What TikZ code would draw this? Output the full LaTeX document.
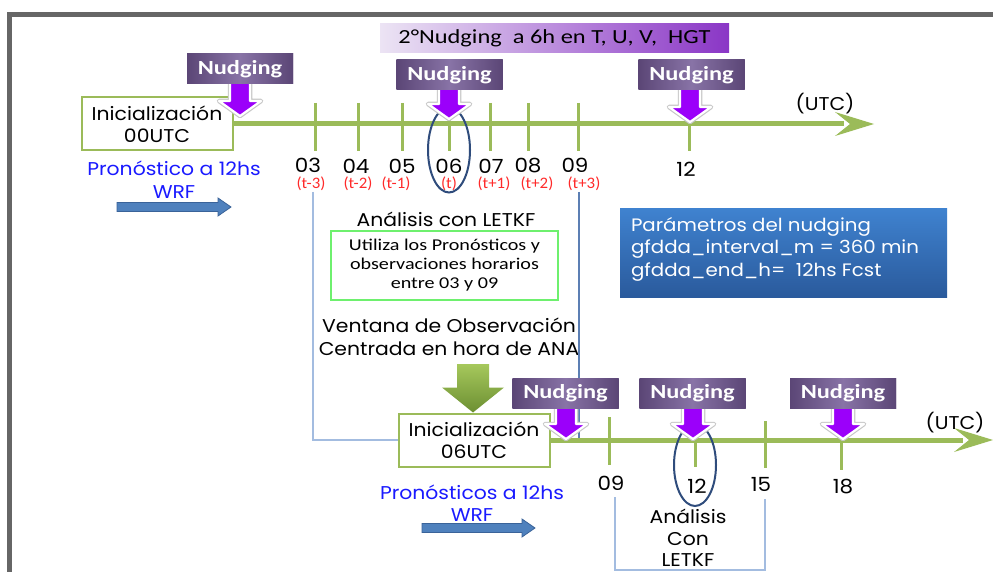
\documentclass[tikz,border=0pt]{standalone}
\usepackage{fontspec}
\setmainfont[FakeStretch=1.1]{Poppins}
\newfontfamily\calfont[FakeStretch=1.22]{Carlito}
\newfontfamily\redfont[FakeStretch=1.05]{Carlito}
\usetikzlibrary{shapes.geometric,calc}
\definecolor{axisgreen}{HTML}{9BBB59}
\definecolor{framegray}{HTML}{666666}
\definecolor{nudgedark}{HTML}{5B4676}
\definecolor{nudgelight}{HTML}{8873A6}
\definecolor{nudgeviolet}{RGB}{155,0,250}
\definecolor{bannerleft}{HTML}{ECE4F4}
\definecolor{bannerright}{HTML}{8A36C6}
\definecolor{ellblue}{HTML}{2F4C7C}
\definecolor{labred}{HTML}{FF2A2A}
\definecolor{textblue}{HTML}{1A1AFF}
\definecolor{brlight}{HTML}{A3BCE0}
\definecolor{brdark}{HTML}{5C7FB4}
\definecolor{boxgreen}{RGB}{110,240,110}
\definecolor{ventlight}{HTML}{A6C85C}
\definecolor{ventdark}{HTML}{6C8F32}
\definecolor{paramtop}{HTML}{3F82CF}
\definecolor{parambot}{HTML}{2A5A9C}
\definecolor{wrffill}{HTML}{4F81BD}
\definecolor{wrfedge}{HTML}{3A6399}

% violet arrow from a Nudging box down to a point of the time axis
\newcommand\nudgedown[2]{%
  \path[nudgeshadow] let \p1=(#1.south), \p2=(#2) in
    (\x2,\y2) -- (\x2-21pt,\y2+15pt) -- (\x2-10pt,\y2+15pt) -- (\x2-10pt,\y1+2pt)
    -- (\x2+10pt,\y1+2pt) -- (\x2+10pt,\y2+15pt) -- (\x2+21pt,\y2+15pt) -- cycle;
  \path[nudgefill] let \p1=(#1.south), \p2=(#2) in
    (\x2,\y2) -- (\x2-21pt,\y2+15pt) -- (\x2-10pt,\y2+15pt) -- (\x2-10pt,\y1+2pt)
    -- (\x2+10pt,\y1+2pt) -- (\x2+10pt,\y2+15pt) -- (\x2+21pt,\y2+15pt) -- cycle;}
% green arrow head at the end of a time axis
\newcommand\axishead[1]{%
  \fill[axisgreen] let \p1=(#1) in (\x1,\y1) -- (\x1-39pt,\y1+12pt)
    -- (\x1-24pt,\y1) -- (\x1-39pt,\y1-12pt) -- cycle;}
% broad blue arrow under the WRF labels
\newcommand\wrfarrow[2]{%
  \path[wrfstyle] let \p1=(#1), \p2=(#2) in
    (\x1,\y1+4.5pt) -- (\x2-13pt,\y1+4.5pt) -- (\x2-13pt,\y1+9pt) -- (\x2,\y1)
    -- (\x2-13pt,\y1-9pt) -- (\x2-13pt,\y1-4.5pt) -- (\x1,\y1-4.5pt) -- cycle;}

\begin{document}
\begin{tikzpicture}[x=1pt,y=-1pt,
  lbl/.style={inner sep=0pt, align=center, font=\fontsize{18.5}{22}\selectfont},
  bluelbl/.style={lbl, text=textblue},
  redlbl/.style={inner sep=0pt, text=labred, font=\redfont\fontsize{16}{17}\selectfont},
  numlbl/.style={inner sep=0pt, font=\fontsize{19.5}{22}\selectfont},
  initbox/.style={draw=axisgreen, line width=2pt, fill=white, minimum width=151pt,
    minimum height=53pt, inner sep=0pt, align=center, font=\fontsize{18.5}{22}\selectfont},
  nudgebox/.style={left color=nudgedark, right color=nudgedark, middle color=nudgelight,
    minimum width=106pt, minimum height=30pt, inner sep=0pt, text=white,
    font=\calfont\bfseries\fontsize{20}{22}\selectfont},
  nudgeshadow/.style={draw=black!22, line width=4.5pt, line join=round},
  nudgefill/.style={fill=nudgeviolet, draw=white, line width=2.2pt, line join=round},
  axisline/.style={draw=axisgreen, line width=5pt},
  tickline/.style={draw=axisgreen, line width=3pt},
  ellring/.style={ellipse, draw=ellblue, line width=2pt, inner sep=0pt},
  wrfstyle/.style={fill=wrffill, draw=wrfedge, line width=0.8pt}]

\useasboundingbox (0,0) rectangle (993,572);
\fill[white] (0,0) rectangle (993,572);

% frame
\draw[framegray, line width=5pt] (9.5,572) -- (9.5,14.5) -- (993,14.5);

% ---------- first forecast (00 UTC) ----------
\node[initbox] (init1) at (157,124) {Inicialización\\00UTC};
\coordinate (ax1tip) at (874,124);
\draw[axisline] (init1.east) -- ($(ax1tip)+(-30,0)$);
\axishead{ax1tip}
\foreach \x in {315,358,402,449,490,528,578,689}
  \draw[tickline] (\x,103) -- (\x,151);
\node[lbl] (utc1) at (825,104) {(UTC)};

\node[numlbl] (h03) at (308,165) {03};
\node[numlbl] (h04) at (356,166) {04};
\node[numlbl] (h05) at (402,166) {05};
\node[numlbl] (h06) at (449,166) {06};
\node[numlbl] (h07) at (491,166) {07};
\node[numlbl] (h08) at (528,166) {08};
\node[numlbl] (h09) at (575,165) {09};
\node[numlbl] (h12) at (686,169) {12};
\node[redlbl] (r03) at (311,184) {(t-3)};
\node[redlbl] (r04) at (358,184) {(t-2)};
\node[redlbl] (r05) at (396,184) {(t-1)};
\node[redlbl] (r06) at (449,184) {(t)};
\node[redlbl] (r07) at (494,184) {(t+1)};
\node[redlbl] (r08) at (537,184) {(t+2)};
\node[redlbl] (r09) at (584,184) {(t+3)};

\node[ellring, minimum width=42pt, minimum height=85pt] (ell1) at (449,150) {};

\node[left color=bannerleft, right color=bannerright, minimum width=349pt,
  minimum height=29pt, inner sep=0pt, font=\calfont\fontsize{20}{22}\selectfont]
  (banner) at (554.5,38.5) {2°Nudging~~a 6h en T, U, V,~~HGT};

\node[nudgebox] (n1) at (240,69) {Nudging};
\node[nudgebox] (n2) at (449.5,75) {Nudging};
\node[nudgebox] (n3) at (691.5,75) {Nudging};
\coordinate (p1) at (240,116);
\coordinate (p2) at (449,119);
\coordinate (p3) at (690,122);
\nudgedown{n1}{p1}
\nudgedown{n2}{p2}
\nudgedown{n3}{p3}
\node[nudgebox] at (n1) {Nudging};
\node[nudgebox] at (n2) {Nudging};
\node[nudgebox] at (n3) {Nudging};

\node[bluelbl, font=\fontsize{18.5}{23}\selectfont] (fc1) at (174,180) {Pronóstico a 12hs\\WRF};
\coordinate (w1s) at (117,207);
\coordinate (w1e) at (231,207);
\wrfarrow{w1s}{w1e}

% ---------- analysis window ----------
\node[lbl] (ana) at (446,219) {Análisis con LETKF};
\node[draw=boxgreen, line width=1.6pt, minimum width=227pt, minimum height=69pt,
  inner sep=0pt, align=center, font=\calfont\fontsize{16.5}{19}\selectfont]
  (uses) at (444.5,265.5) {Utiliza los Pronósticos y\\observaciones horarios\\entre 03 y 09};
\node[lbl, font=\fontsize{18.5}{23}\selectfont] (vent) at (449,337)
  {Ventana de Observación\\Centrada en hora de ANA};

% ---------- second forecast (06 UTC) ----------
\node[initbox] (init2) at (474,440) {Inicialización\\06UTC};
\coordinate (br1top) at (313,192);
\coordinate (br2top) at (579,192);
\coordinate (br2bot) at (579,440);
\draw[brlight, line width=1.3pt] (br1top) |- (init2.west);
\draw[brdark, line width=1.2pt] (br2top) -- (br2bot);
\node[initbox] at (init2) {Inicialización\\06UTC};

\coordinate (venttop) at (473,364);
\path[top color=ventlight, bottom color=ventdark] let \p1=(venttop), \p2=(init2.north) in
  (\x1-16pt,\y1) -- (\x1+16pt,\y1) -- (\x1+16pt,\y2+25pt) -- (\x1+31pt,\y2+25pt)
  -- (\x1,\y2) -- (\x1-31pt,\y2+25pt) -- (\x1-16pt,\y2+25pt) -- cycle;

\coordinate (ax2tip) at (993,440);
\draw[axisline] (init2.east) -- ($(ax2tip)+(-30,0)$);
\axishead{ax2tip}
\draw[tickline] (609,417) -- (609,465);
\draw[tickline] (695,417) -- (695,467);
\draw[tickline] (765,421) -- (765,468);
\draw[tickline] (841,417) -- (841,470);
\node[lbl] (utc2) at (955,423) {(UTC)};

\node[numlbl] (k09) at (611,483) {09};
\node[numlbl] (k12) at (697,486) {12};
\node[numlbl] (k15) at (761,484) {15};
\node[numlbl] (k18) at (843,487) {18};
\node[ellring, minimum width=42pt, minimum height=82pt] (ell2) at (695,465) {};

\node[nudgebox] (m1) at (565.5,393.5) {Nudging};
\node[nudgebox] (m2) at (692.5,393.5) {Nudging};
\node[nudgebox] (m3) at (843,393.5) {Nudging};
\coordinate (q1) at (566,439);
\coordinate (q2) at (693,439);
\coordinate (q3) at (843,439);
\nudgedown{m1}{q1}
\nudgedown{m2}{q2}
\nudgedown{m3}{q3}
\node[nudgebox] at (m1) {Nudging};
\node[nudgebox] at (m2) {Nudging};
\node[nudgebox] at (m3) {Nudging};

\node[lbl, font=\fontsize{18.5}{21.5}\selectfont] (ana2) at (688,538) {Análisis\\Con\\LETKF};
\coordinate (b2a) at (615,497);
\coordinate (b2b) at (765,499);
\draw[brlight, line width=1.3pt] (b2a) |- (765,570) -- (b2b);

\node[bluelbl, font=\fontsize{18.5}{22}\selectfont] (fc2) at (472,503) {Pronósticos a 12hs\\WRF};
\coordinate (w2s) at (422,528);
\coordinate (w2e) at (535,528);
\wrfarrow{w2s}{w2e}

% ---------- nudging parameters ----------
\node[top color=paramtop, bottom color=parambot, minimum width=327pt, minimum height=88pt,
  inner sep=0pt] (par) at (783.5,253) {};
\node[anchor=north west, inner sep=0pt, align=left, text=white,
  font=\fontsize{18}{22.5}\selectfont] (partxt) at ($(par.north west)+(11,8)$)
  {Parámetros del nudging\\gfdda\_interval\_m = 360 min\\gfdda\_end\_h=~~12hs Fcst};
\end{tikzpicture}
\end{document}
